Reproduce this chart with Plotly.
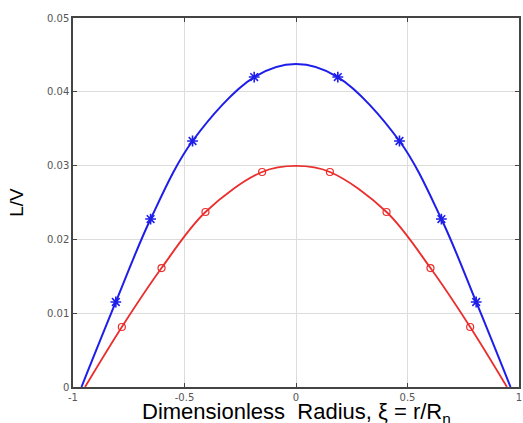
import plotly.graph_objects as go

# Curve points
blue_line_x = [-0.962, -0.808, -0.652, -0.464, -0.1875, 0.0, 0.1875, 0.464, 0.652, 0.808, 0.962]
blue_line_y = [0.0, 0.01152, 0.02276, 0.03333, 0.0420, 0.04377, 0.0420, 0.03333, 0.02276, 0.01152, 0.0]
red_line_x = [-0.946, -0.781, -0.603, -0.406, -0.152, 0.0, 0.152, 0.406, 0.603, 0.781, 0.946]
red_line_y = [0.0, 0.00813, 0.01612, 0.02371, 0.02913, 0.02995, 0.02913, 0.02371, 0.01612, 0.00813, 0.0]

# Marker points
blue_mark_x = [-0.808, -0.652, -0.464, -0.1875, 0.1875, 0.464, 0.652, 0.808]
blue_mark_y = [0.01152, 0.02276, 0.03333, 0.0420, 0.0420, 0.03333, 0.02276, 0.01152]
red_mark_x = [-0.781, -0.603, -0.406, -0.152, 0.152, 0.406, 0.603, 0.781]
red_mark_y = [0.00813, 0.01612, 0.02371, 0.02913, 0.02913, 0.02371, 0.01612, 0.00813]

x_ticks = [-1, -0.5, 0, 0.5, 1]
x_tick_labels = ["-1", "-0.5", "0", "0.5", "1"]
y_ticks = [0, 0.01, 0.02, 0.03, 0.04, 0.05]
y_tick_labels = ["0", "0.01", "0.02", "0.03", "0.04", "0.05"]

x_title = "Dimensionless\u00a0\u00a0Radius, ξ = r/R<sub>n</sub>"
y_title = "L/V"

BLUE = "rgb(30,30,235)"
RED = "rgb(235,45,45)"

fig = go.Figure()
fig.add_trace(go.Scatter(x=blue_line_x, y=blue_line_y, mode="lines",
                         line=dict(color=BLUE, width=2, shape="spline", smoothing=1.0),
                         showlegend=False, hoverinfo="skip"))
fig.add_trace(go.Scatter(x=red_line_x, y=red_line_y, mode="lines",
                         line=dict(color=RED, width=1.8, shape="spline", smoothing=1.0),
                         showlegend=False, hoverinfo="skip"))
fig.add_trace(go.Scatter(x=blue_mark_x, y=blue_mark_y, mode="markers",
                         marker=dict(symbol="asterisk-open", size=9, color=BLUE,
                                     line=dict(color=BLUE, width=1.6)),
                         showlegend=False))
fig.add_trace(go.Scatter(x=red_mark_x, y=red_mark_y, mode="markers",
                         marker=dict(symbol="circle-open", size=7, color=RED,
                                     line=dict(color=RED, width=1.2)),
                         showlegend=False))

axis_common = dict(showgrid=True, gridcolor="#dcdcdc", gridwidth=1,
                   showline=True, linecolor="#444", linewidth=1.5, mirror="allticks",
                   ticks="inside", ticklen=4, tickcolor="#444", zeroline=False,
                   tickfont=dict(family="DejaVu Sans", size=10, color="#555"))

fig.update_xaxes(range=[-1, 1], tickvals=x_ticks, ticktext=x_tick_labels, **axis_common)
fig.update_yaxes(range=[0, 0.05], tickvals=y_ticks, ticktext=y_tick_labels,
                 title=dict(text=y_title, font=dict(family="Liberation Sans", size=19, color="black"),
                            standoff=18),
                 **axis_common)

fig.add_annotation(text=x_title, xref="paper", yref="paper", x=0.5, y=-0.028,
                   xanchor="center", yanchor="top", showarrow=False,
                   font=dict(family="Liberation Sans", size=22, color="black"))

fig.update_layout(width=523, height=423, margin=dict(l=73, r=2, t=18, b=36),
                  plot_bgcolor="white", paper_bgcolor="white")

fig.write_html("out.html")
